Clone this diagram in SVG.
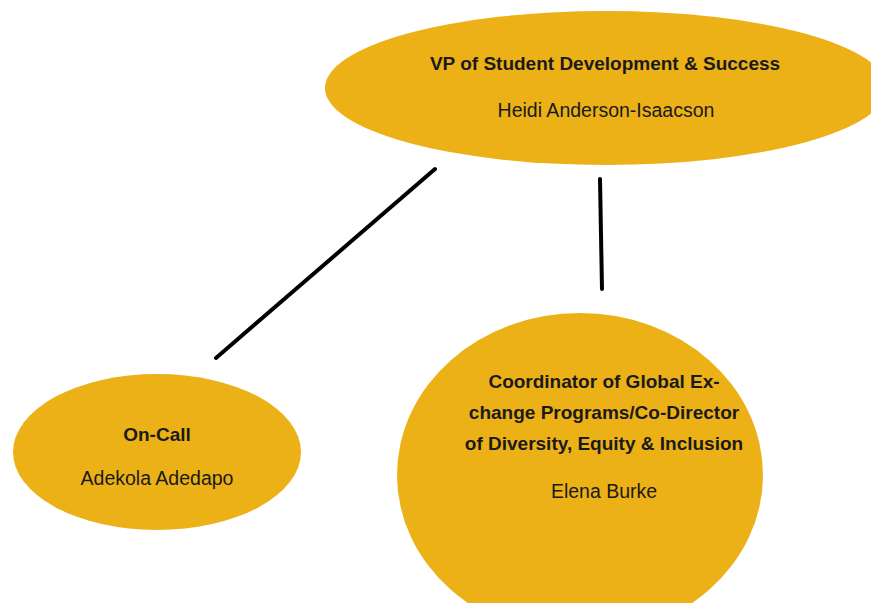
<svg xmlns="http://www.w3.org/2000/svg" width="871" height="603" viewBox="0 0 871 603">
<style>
.node{fill:#ECB116;}
.t{font-family:"Liberation Sans",Arial,sans-serif;font-size:19.5px;fill:#1a1a1a;text-anchor:middle;}
.b{font-weight:bold;font-size:19px;}
.edge{stroke:#000;stroke-width:4;stroke-linecap:round;fill:none;}
</style>
<rect width="871" height="603" fill="#fff"/>
<g id="connectors">
<line class="edge" x1="435" y1="169" x2="216" y2="358"/>
<line class="edge" x1="600" y1="179" x2="602" y2="289"/>
</g>
<g id="vp">
<ellipse class="node" cx="606" cy="88" rx="281" ry="77"/>
<text class="t b" x="605" y="70">VP of Student Development &amp; Success</text>
<text class="t" x="606" y="117">Heidi Anderson-Isaacson</text>
</g>
<g id="oncall">
<ellipse class="node" cx="157" cy="452" rx="144" ry="78"/>
<text class="t b" x="157" y="441">On-Call</text>
<text class="t" x="157" y="485">Adekola Adedapo</text>
</g>
<g id="coordinator">
<ellipse class="node" cx="580" cy="475" rx="183" ry="162"/>
<text class="t b" x="604" y="388">Coordinator of Global Ex-</text>
<text class="t b" x="604" y="419">change Programs/Co-Director</text>
<text class="t b" x="604" y="450">of Diversity, Equity &amp; Inclusion</text>
<text class="t" x="604" y="498">Elena Burke</text>
</g>
</svg>
